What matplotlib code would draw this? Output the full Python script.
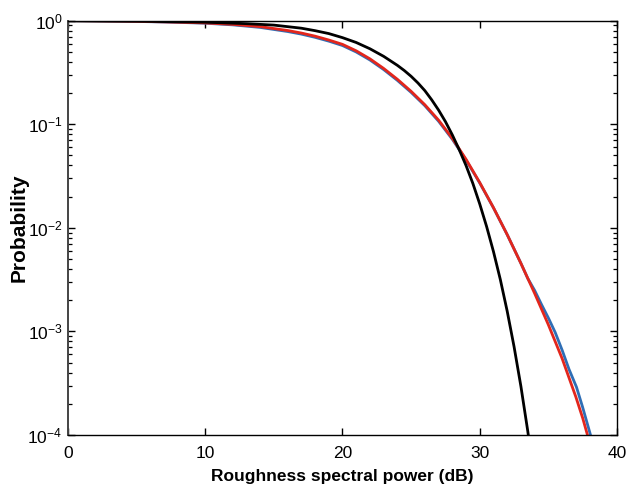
import matplotlib
matplotlib.use("Agg")
import matplotlib.pyplot as plt
from matplotlib.ticker import LogLocator, NullFormatter, FixedLocator

plt.rcParams['font.family'] = ['Liberation Sans', 'DejaVu Sans']
plt.rcParams['mathtext.default'] = 'regular'

# Measured (blue, empirical)
blue_x = [0, 2, 4, 6, 8, 10, 12, 14, 16, 17, 18, 19, 20, 21, 22, 23, 24, 25, 26, 27, 28, 29, 30,
          31, 32, 33, 33.5, 34.0, 34.5, 35.0, 35.5, 36.0, 36.5, 37.05, 37.5, 38.0, 38.3]
blue_p = [1.0, 0.994, 0.987, 0.976, 0.962, 0.944, 0.91, 0.86, 0.785, 0.741, 0.69, 0.634, 0.575,
          0.498, 0.417, 0.337, 0.265, 0.203, 0.151, 0.107, 0.0717, 0.0452, 0.0271,
          0.0156, 0.0086, 0.00455, 0.00325, 0.00249, 0.00182, 0.00135, 0.000977, 0.000662,
          0.000433, 0.00029, 0.000185, 0.000108, 0.0000776]

# Model fit (red)
red_x = [0, 2, 4, 6, 8, 10, 12, 14, 16, 17, 18, 19, 20, 21, 22, 23, 24, 25, 26, 27, 28, 29, 30,
         31, 32, 33, 34, 35, 36, 37, 37.5, 38, 38.3]
red_p = [1.0, 0.995, 0.989, 0.979, 0.966, 0.950, 0.920, 0.875, 0.803, 0.759, 0.708, 0.650, 0.590,
         0.511, 0.4276, 0.3454, 0.2714, 0.2077, 0.1542, 0.1095, 0.0732, 0.0459, 0.02735,
         0.01565, 0.0086, 0.00454, 0.00233, 0.00116, 0.000549, 0.000234, 0.000146, 0.0000851,
         0.000063]

# Reference distribution (black)
black_x = [0, 5, 10, 13, 15, 17, 18, 19, 20, 21, 22, 23, 24, 24.5, 25, 25.5, 26, 26.5, 27, 27.5,
           28, 28.5, 29, 29.5, 30, 30.5, 31, 31.5, 32, 32.5, 33, 33.5, 34]
black_p = [0.996, 0.988, 0.965, 0.935, 0.905, 0.845, 0.80, 0.75, 0.685, 0.615, 0.535, 0.452, 0.37,
           0.33, 0.29, 0.25, 0.211, 0.172, 0.137, 0.106, 0.079, 0.057, 0.040, 0.0268, 0.0170,
           0.0103, 0.0059, 0.00317, 0.00157, 0.000714, 0.000295, 0.000109, 0.000036]

x_ticks = [0, 10, 20, 30, 40]

fig = plt.figure(figsize=(6.26, 4.91), dpi=100)
ax = fig.add_axes([0.1086, 0.114, 0.8770, 0.844])

ax.plot(blue_x, blue_p, color='#2f6eb5', lw=2.0, solid_joinstyle='round')
ax.plot(red_x, red_p, color='#e3261c', lw=2.0, solid_joinstyle='round')
ax.plot(black_x, black_p, color='black', lw=2.0, solid_joinstyle='round')

ax.set_yscale('log')
ax.set_xlim(0, 40)
ax.set_ylim(1e-4, 1)
ax.xaxis.set_major_locator(FixedLocator(x_ticks))
ax.yaxis.set_major_locator(LogLocator(base=10, numticks=10))
ax.yaxis.set_minor_locator(LogLocator(base=10, subs=range(2, 10), numticks=20))
ax.yaxis.set_minor_formatter(NullFormatter())

ax.tick_params(axis='both', which='major', direction='in', length=5, width=1,
               top=True, right=True, labelsize=12.5, color='black')
ax.tick_params(axis='x', which='major', pad=8)
ax.tick_params(axis='y', which='major', pad=4)
ax.tick_params(axis='y', which='minor', direction='in', length=3, width=0.9,
               left=True, right=True)
ax.tick_params(axis='x', which='minor', bottom=False, top=False)

for s in ax.spines.values():
    s.set_linewidth(1.0)
ax.spines['left'].set_color('#444444')
ax.spines['left'].set_linewidth(1.4)

ax.set_xlabel('Roughness spectral power (dB)', fontsize=12.5, fontweight='bold', labelpad=6)
ax.set_ylabel('Probability', fontsize=15, fontweight='bold', labelpad=-1)

fig.savefig('out.png', dpi=100)
